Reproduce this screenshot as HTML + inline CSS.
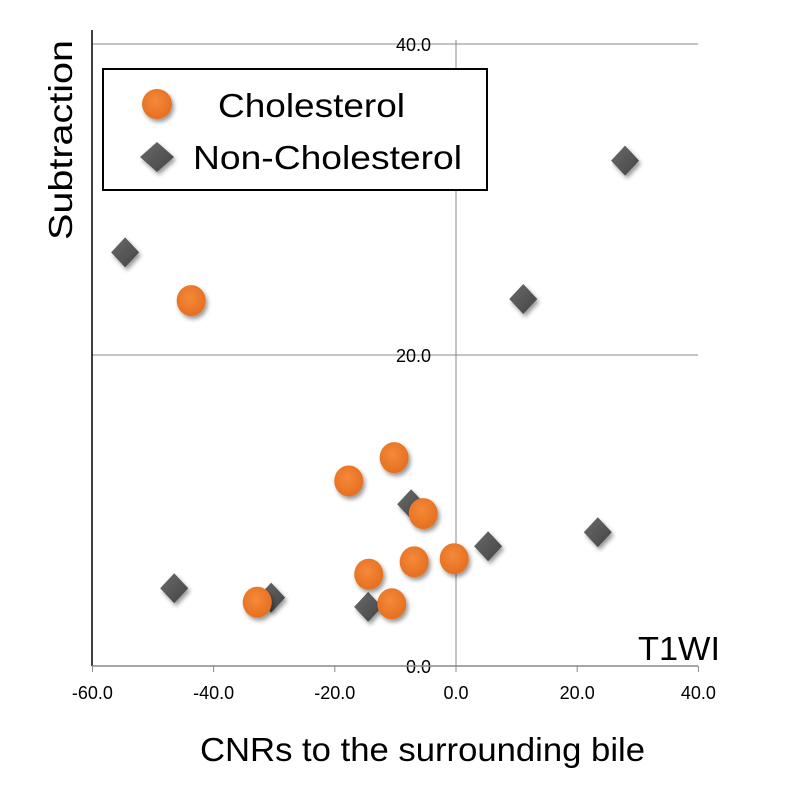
<!DOCTYPE html>
<html><head><meta charset="utf-8"><style>
body{margin:0;background:#fff}
svg{display:block;font-family:"Liberation Sans",sans-serif}
</style></head><body>
<svg id="chart" width="811" height="795" viewBox="0 0 811 795">
<defs>
<radialGradient id="og" cx="45%" cy="40%" r="60%"><stop offset="0" stop-color="#f5893a"/><stop offset="1" stop-color="#e56f1f"/></radialGradient>
<linearGradient id="dg" x1="0" y1="0" x2="1" y2="1"><stop offset="0" stop-color="#6a6a6a"/><stop offset="1" stop-color="#444"/></linearGradient>
<filter id="sh" x="-50%" y="-50%" width="200%" height="200%"><feDropShadow dx="2" dy="3" stdDeviation="2" flood-opacity="0.4"/></filter>
</defs>
<g id="grid"></g>
<g id="marks"></g>
<text transform="translate(72,140) rotate(-90)" text-anchor="middle" font-size="33" textLength="200" lengthAdjust="spacingAndGlyphs">Subtraction</text>
<text x="200" y="761" font-size="33" textLength="445" lengthAdjust="spacingAndGlyphs">CNRs to the surrounding bile</text>
<text x="638" y="660" font-size="33" textLength="82" lengthAdjust="spacingAndGlyphs">T1WI</text>
<g>
<rect x="103" y="69" width="384" height="121" fill="#fff" stroke="#000" stroke-width="2"/>
<circle cx="157" cy="104" r="15" fill="url(#og)" filter="url(#sh)"/>
<text x="218" y="117" font-size="33" textLength="187" lengthAdjust="spacingAndGlyphs">Cholesterol</text>
<polygon points="157,142 174,157 157,172 140,157" fill="url(#dg)" filter="url(#sh)"/>
<text x="193" y="169" font-size="33" textLength="269" lengthAdjust="spacingAndGlyphs">Non-Cholesterol</text>
</g>
<script>
const xTicks=[-60,-40,-20,0,20,40];
const yTicks=[0,20,40];
const cholX=[-43.7,-17.7,-10.2,-5.4,-6.9,-0.3,-14.4,-10.6,-32.8];
const cholY=[23.5,11.9,13.4,9.8,6.7,6.9,5.9,4.0,4.1];
const nonX=[-54.6,27.9,11.1,-7.4,5.3,23.4,-46.5,-30.5,-14.5];
const nonY=[26.6,32.5,23.6,10.4,7.7,8.6,5.0,4.4,3.8];
const NS="http://www.w3.org/2000/svg";
const sx=v=>456+(v)*6.06, sy=v=>666-v*15.55;
function mk(t,a,p){const e=document.createElementNS(NS,t);for(const k in a)e.setAttribute(k,a[k]);p.appendChild(e);return e;}
const g=document.getElementById('grid'), m=document.getElementById('marks');
yTicks.forEach(v=>{if(v>0){const l=mk('line',{x1:92,x2:698,y1:sy(v),y2:sy(v),stroke:'#888','stroke-width':1},g);

}
const t=mk('text',{x:sx(0)-25,y:sy(v)+7,'text-anchor':'end','font-size':18,fill:'#000'},g);t.textContent=v.toFixed(1);

});
const va=mk('line',{x1:sx(0),x2:sx(0),y1:sy(40)-4,y2:sy(0),stroke:'#888','stroke-width':1},g);


const lb=mk('line',{x1:92,x2:92,y1:30,y2:666,stroke:'#000','stroke-width':1.5},g);


const xa=mk('line',{x1:92,x2:698,y1:666,y2:666,stroke:'#888','stroke-width':1.5},g);


xTicks.forEach(v=>{mk('line',{x1:sx(v),x2:sx(v),y1:666,y2:672,stroke:'#888'},g);
const t=mk('text',{x:sx(v),y:699,'text-anchor':'middle','font-size':18},g);t.textContent=v.toFixed(1);

});
nonX.forEach((v,i)=>{const x=sx(v),y=sy(nonY[i]);
const p=mk('polygon',{points:`${x},${y-15} ${x+14},${y} ${x},${y+15} ${x-14},${y}`,fill:'url(#dg)',filter:'url(#sh)'},m);

});
cholX.forEach((v,i)=>{const c=mk('ellipse',{cx:sx(v),cy:sy(cholY[i]),rx:14.5,ry:15.5,fill:'url(#og)',filter:'url(#sh)'},m);

});
</script>
</svg>
</body></html>
